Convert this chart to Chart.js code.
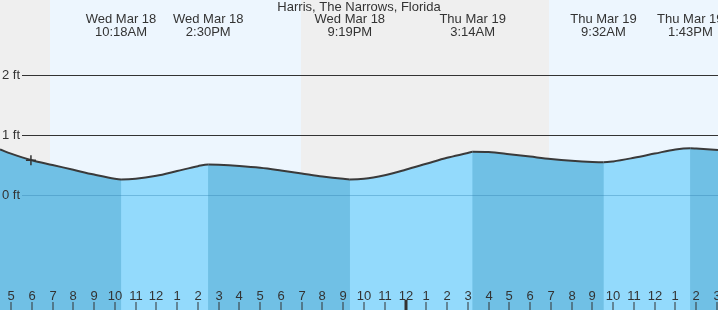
<!DOCTYPE html>
<html>
<head>
<meta charset="utf-8">
<script src="https://cdn.jsdelivr.net/npm/chart.js@4.4.1/dist/chart.umd.min.js"></script>
<style>
  html, body { margin: 0; padding: 0; background: #fff; }
  #wrap { width: 718px; height: 310px; }
</style>
</head>
<body>
<div id="wrap"><canvas id="tideChart" width="718" height="310"></canvas></div>
<script>
const chartTitle = "Harris, The Narrows, Florida";

// hours counted from Wed Mar 18 00:00
const tideHours = [4.47, 5, 6, 7, 8, 9, 10, 10.3, 11, 12, 13, 14, 14.5, 15, 16, 17, 18, 19, 20, 21, 21.317,
  22, 23, 24, 25, 26, 27, 27.233, 28, 29, 30, 31, 32, 33, 33.533, 34, 35, 36, 37, 37.717, 38, 39.05];
const tideFeet = [0.76, 0.69, 0.58, 0.50, 0.42, 0.34, 0.27, 0.26, 0.27, 0.32, 0.40, 0.48, 0.51, 0.505, 0.485, 0.455, 0.41, 0.36, 0.31, 0.27, 0.26,
  0.27, 0.33, 0.42, 0.52, 0.62, 0.70, 0.72, 0.715, 0.68, 0.64, 0.60, 0.57, 0.55, 0.545, 0.56, 0.62, 0.69, 0.76, 0.78, 0.775, 0.75];

const extremeHours = [10.3, 14.5, 21.317, 27.233, 33.533, 37.717];
const extremeDays = ["Wed Mar 18", "Wed Mar 18", "Wed Mar 18", "Thu Mar 19", "Thu Mar 19", "Thu Mar 19"];
const extremeTimes = ["10:18AM", "2:30PM", "9:19PM", "3:14AM", "9:32AM", "1:43PM"];

const hourTicks = [5, 6, 7, 8, 9, 10, 11, 12, 13, 14, 15, 16, 17, 18, 19, 20, 21, 22, 23, 24,
  25, 26, 27, 28, 29, 30, 31, 32, 33, 34, 35, 36, 37, 38, 39];
const hourLabels = ["5", "6", "7", "8", "9", "10", "11", "12", "1", "2", "3", "4", "5", "6", "7", "8", "9", "10", "11", "12",
  "1", "2", "3", "4", "5", "6", "7", "8", "9", "10", "11", "12", "1", "2", "3"];

// [sunrise, sunset] pairs
const dayStart = [6.88, 30.92];
const dayEnd = [18.97, 40];

const feetTicks = [0, 1, 2];
const feetLabels = ["0 ft", "1 ft", "2 ft"];

const nowHour = [5.96];
const nowFeet = [0.58];

const FONT = "13px 'Liberation Sans', Arial, sans-serif";
const TEXT = "#333";
const DARK_WATER = "#70c0e5";
const LIGHT_WATER = "#93dafc";

const backdrop = {
  id: "backdrop",
  beforeDatasetsDraw(chart) {
    const { ctx, chartArea: a, scales: { x } } = chart;
    ctx.save();
    ctx.fillStyle = "#efefef";
    ctx.fillRect(a.left, a.top, a.right - a.left, a.bottom - a.top);
    ctx.fillStyle = "#edf6fe";
    for (let i = 0; i < dayStart.length; i++) {
      const x0 = Math.round(x.getPixelForValue(dayStart[i]));
      const x1 = Math.round(Math.min(x.getPixelForValue(dayEnd[i]), a.right));
      ctx.fillRect(x0, a.top, x1 - x0, a.bottom - a.top);
    }
    ctx.restore();
  },
};

const overlay = {
  id: "overlay",
  afterDatasetsDraw(chart) {
    const { ctx, chartArea: a, scales: { x, y } } = chart;
    ctx.save();
    ctx.font = FONT;
    ctx.textBaseline = "middle";

    // level lines + labels
    feetTicks.forEach((f, i) => {
      const py = Math.round(y.getPixelForValue(f)) + 0.5;
      ctx.strokeStyle = f === 0 ? "rgba(40,120,170,0.35)" : "#333";
      ctx.lineWidth = 1;
      ctx.beginPath();
      ctx.moveTo(22, py);
      ctx.lineTo(a.right, py);
      ctx.stroke();
      ctx.fillStyle = TEXT;
      ctx.textAlign = "left";
      ctx.fillText(feetLabels[i], 2, py);
    });

    // hour ticks
    ctx.textAlign = "center";
    hourTicks.forEach((h, i) => {
      const px = Math.round(x.getPixelForValue(h));
      ctx.fillStyle = TEXT;
      ctx.fillText(hourLabels[i], px, 296);
      if (h % 24 === 0) ctx.fillRect(px - 1.5, 300, 3, 10);
      else ctx.fillRect(px - 0.5, 302, 1, 8);
    });

    // title and high/low labels
    ctx.fillStyle = TEXT;
    ctx.fillText(chartTitle, (a.left + a.right) / 2, 7);
    extremeHours.forEach((h, i) => {
      const px = x.getPixelForValue(h);
      ctx.fillText(extremeDays[i], px, 19);
      ctx.fillText(extremeTimes[i], px, 32);
    });
    ctx.restore();
  },
};

const tidePoints = tideHours.map((h, i) => ({ x: h, y: tideFeet[i] }));

new Chart(document.getElementById("tideChart"), {
  type: "line",
  data: {
    datasets: [
      {
        data: nowHour.map((h, i) => ({ x: h, y: nowFeet[i] })),
        showLine: false,
        pointStyle: "cross",
        pointRadius: 5,
        borderColor: "#333",
        borderWidth: 1.5,
      },
      {
        // rising water, lighter blue
        data: tidePoints,
        borderColor: "#3a3a3a",
        borderWidth: 2,
        pointRadius: 0,
        cubicInterpolationMode: "monotone",
        fill: "start",
        backgroundColor: "rgba(0,0,0,0)",
        segment: {
          backgroundColor: (c) => (c.p1.parsed.y > c.p0.parsed.y ? LIGHT_WATER : "rgba(0,0,0,0)"),
        },
      },
      {
        // falling water base
        data: tidePoints,
        borderWidth: 0,
        borderColor: "rgba(0,0,0,0)",
        pointRadius: 0,
        cubicInterpolationMode: "monotone",
        fill: "start",
        backgroundColor: DARK_WATER,
      },
    ],
  },
  options: {
    responsive: false,
    animation: false,
    devicePixelRatio: 1,
    layout: { padding: 0, autoPadding: false },
    scales: {
      x: { type: "linear", min: 4.47, max: 39.05, display: false },
      y: { min: -115 / 60, max: 195 / 60, display: false },
    },
    plugins: {
      legend: { display: false },
      tooltip: { enabled: false },
    },
  },
  plugins: [backdrop, overlay],
});
</script>
</body>
</html>
